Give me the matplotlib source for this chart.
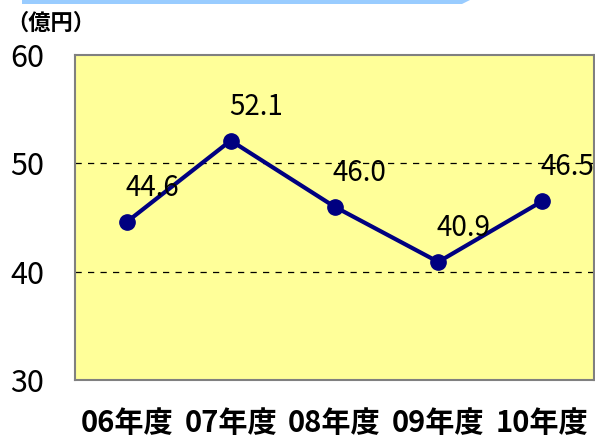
import numpy as np
import matplotlib.pyplot as plt
from matplotlib.patches import Polygon

plt.rcParams['font.family'] = ['Noto Sans CJK JP', 'DejaVu Sans']

# データ
nendo = ["06年度", "07年度", "08年度", "09年度", "10年度"]
uriage = [44.6, 52.1, 46.0, 40.9, 46.5]
y_ticks = [30, 40, 50, 60]

fig = plt.figure(figsize=(5.95, 4.37), dpi=100)
ax = fig.add_axes([75 / 595, 1 - 380 / 437, 519 / 595, 325 / 437])

# 上部の青い帯
fig.patches.append(Polygon([[22 / 595, 1.0], [470 / 595, 1.0], [462 / 595, 1 - 4 / 437], [22 / 595, 1 - 4 / 437]],
                           closed=True, transform=fig.transFigure, facecolor="#99CCFF", edgecolor="none"))

ax.set_facecolor("#FFFF99")
x = np.arange(len(nendo))
ax.plot(x, uriage, color="#000080", linewidth=3, marker="o", markersize=11, zorder=3)

for xi, v in zip(x, uriage):
    ax.annotate(f"{v:.1f}", (xi, v), xytext=(25, 34), textcoords="offset pixels",
                ha="center", va="center", fontsize=20, color="black")

ax.set_xlim(-0.5, len(nendo) - 0.5)
ax.set_ylim(30, 60)
ax.set_yticks(y_ticks)
ax.set_yticklabels([str(t) for t in y_ticks], fontsize=22)
ax.set_xticks(x)
ax.set_xticklabels(nendo, fontsize=21, fontweight="bold")
ax.tick_params(axis="y", length=0, pad=22)
ax.tick_params(axis="x", length=0, pad=20)

for g in [40, 50]:
    ax.axhline(g, color="black", linestyle=(0, (5, 5)), linewidth=0.9, zorder=1)

for s in ax.spines.values():
    s.set_color("#808080")
    s.set_linewidth(1.5)

fig.text(6 / 595, 1 - 23 / 437, "（億円）", fontsize=16, fontweight="bold", va="center", ha="left")

fig.savefig("out.png", dpi=100)
